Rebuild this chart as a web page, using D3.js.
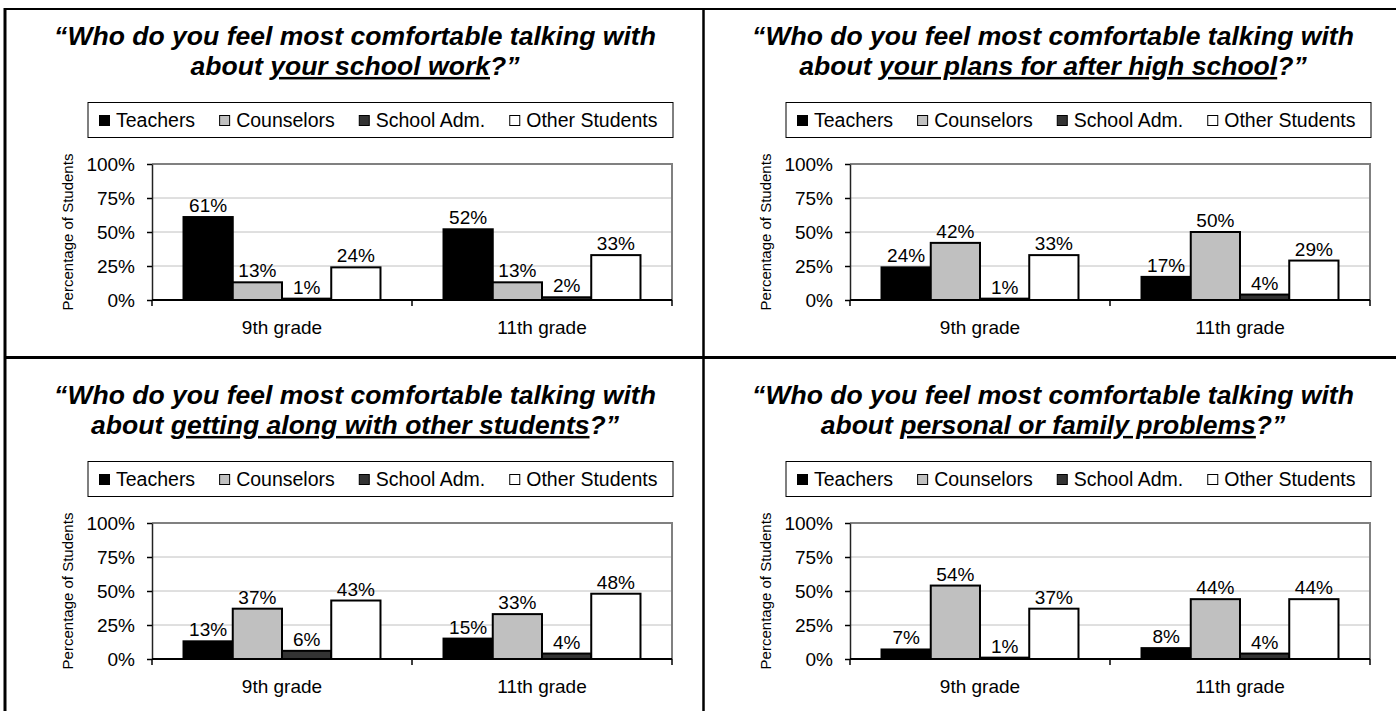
<!DOCTYPE html>
<html>
<head>
<meta charset="utf-8">
<script src="https://cdn.jsdelivr.net/npm/d3@7"></script>
<style>
  html, body { margin: 0; padding: 0; background: #fff; }
  svg { display: block; }
  text { font-family: "Liberation Sans", Arial, sans-serif; fill: #000; }
  .title { font-family: "Liberation Sans Narrow", "Arial Narrow", "Liberation Sans", Arial, sans-serif; font-weight: bold; font-style: italic; font-size: 25px; }
</style>
</head>
<body>
<svg id="chart" width="1396" height="711"></svg>
<script>
// Survey answers: share of students (%) naming each group, per grade
const categories = ["9th grade", "11th grade"];
const seriesNames = ["Teachers", "Counselors", "School Adm.", "Other Students"];
const seriesColors = ["#000000", "#c0c0c0", "#333333", "#ffffff"];
const yTicks = [0, 25, 50, 75, 100];

const questionStart = "Who do you feel most comfortable talking with";
const topics = [
  "your school work",
  "your plans for after high school",
  "getting along with other students",
  "personal or family problems"
];

// rows: grade; columns: Teachers, Counselors, School Adm., Other Students
const schoolWork      = [[61, 13, 1, 24], [52, 13, 2, 33]];
const afterHighSchool = [[24, 42, 1, 33], [17, 50, 4, 29]];
const otherStudents   = [[13, 37, 6, 43], [15, 33, 4, 48]];
const personalFamily  = [[7, 54, 1, 37], [8, 44, 4, 44]];

const panelData = [schoolWork, afterHighSchool, otherStudents, personalFamily];

const svg = d3.select("#chart");

// frame lines of the 2x2 grid
const frame = svg.append("g").attr("stroke", "#000").attr("fill", "none");
frame.append("line").attr("x1", 4).attr("x2", 1396).attr("y1", 9).attr("y2", 9).attr("stroke-width", 2);
frame.append("line").attr("x1", 5).attr("x2", 5).attr("y1", 8).attr("y2", 711).attr("stroke-width", 3);
frame.append("line").attr("x1", 703.5).attr("x2", 703.5).attr("y1", 8).attr("y2", 711).attr("stroke-width", 2.5);
frame.append("line").attr("x1", 4).attr("x2", 1396).attr("y1", 357.5).attr("y2", 357.5).attr("stroke-width", 3);

const plot = { left: 152, right: 672, top: 164, bottom: 300 };

function drawPanel(idx) {
  const ox = (idx % 2) * 698;
  const oy = Math.floor(idx / 2) * 359;
  const values = panelData[idx];
  const g = svg.append("g").attr("transform", `translate(${ox},${oy})`);

  // title
  const tg = g.append("g");
  const t1 = tg.append("text").attr("class", "title").attr("text-anchor", "middle")
    .attr("x", 0).attr("y", 45).text("\u201C" + questionStart);
  const t2 = tg.append("text").attr("class", "title").attr("text-anchor", "middle")
    .attr("x", 0).attr("y", 75);
  t2.append("tspan").text("about ");
  t2.append("tspan").style("text-decoration", "underline").text(topics[idx]);
  t2.append("tspan").text("?\u201D");
  const k = 602 / t1.node().getComputedTextLength();
  tg.attr("transform", `translate(355,0) scale(${k},1)`);

  // legend
  const lg = g.append("g");
  lg.append("rect").attr("x", 88).attr("y", 102.5).attr("width", 585).attr("height", 35)
    .attr("fill", "#fff").attr("stroke", "#000").attr("stroke-width", 1);
  let lx = 99;
  seriesNames.forEach((name, i) => {
    lg.append("rect").attr("x", lx + 0.5).attr("y", 115.5).attr("width", 10).attr("height", 10)
      .attr("fill", seriesColors[i]).attr("stroke", "#000").attr("stroke-width", 1);
    const txt = lg.append("text").attr("x", lx + 17).attr("y", 127)
      .style("font-size", "19.5px").text(name);
    lx = lx + 17 + txt.node().getComputedTextLength() + 24;
  });

  // scales
  const x = d3.scaleBand().domain(categories).range([plot.left, plot.right]).padding(0);
  const xs = d3.scaleBand().domain(seriesNames).range([0, x.bandwidth()])
    .paddingInner(0).paddingOuter(0.64);
  const y = d3.scaleLinear().domain([0, 100]).range([plot.bottom, plot.top]);

  // gridlines
  g.append("g").selectAll("line").data(yTicks.filter(d => d > 0 && d < 100)).join("line")
    .attr("x1", plot.left).attr("x2", plot.right)
    .attr("y1", d => y(d)).attr("y2", d => y(d))
    .attr("stroke", "#c0c0c0").attr("stroke-width", 1);

  // plot-area border (top and right)
  g.append("path")
    .attr("d", `M${plot.left},${y(100)}H${plot.right}V${plot.bottom}`)
    .attr("fill", "none").attr("stroke", "#808080").attr("stroke-width", 2);

  // bars
  categories.forEach((cat, ci) => {
    const bg = g.append("g");
    bg.selectAll("rect").data(values[ci]).join("rect")
      .attr("x", (d, i) => x(cat) + xs(seriesNames[i]))
      .attr("width", xs.bandwidth())
      .attr("y", d => y(d))
      .attr("height", d => y(0) - y(d))
      .attr("fill", (d, i) => seriesColors[i])
      .attr("stroke", "#000").attr("stroke-width", 2);
    bg.selectAll("text").data(values[ci]).join("text")
      .attr("x", (d, i) => x(cat) + xs(seriesNames[i]) + xs.bandwidth() / 2)
      .attr("y", d => y(d) - 5)
      .attr("text-anchor", "middle").style("font-size", "19px")
      .text(d => d + "%");
  });

  // y axis
  const ya = g.append("g").attr("transform", `translate(${plot.left},0)`)
    .call(d3.axisLeft(y).tickValues(yTicks).tickFormat(d => d + "%").tickSize(5).tickSizeOuter(0).tickPadding(12));
  ya.selectAll("text").style("font-size", "19px").style("font-family", "'Liberation Sans', Arial, sans-serif").attr("fill", "#000");
  ya.selectAll("line").attr("stroke", "#000").attr("stroke-width", 1.5);
  ya.select(".domain").attr("stroke", "#222").attr("stroke-width", 1.5);

  // x axis
  const xa = g.append("g").attr("transform", `translate(0,${plot.bottom})`)
    .call(d3.axisBottom(x).tickSize(0).tickPadding(21));
  xa.select(".domain").remove();
  xa.selectAll("text").style("font-size", "19px").style("font-family", "'Liberation Sans', Arial, sans-serif").attr("fill", "#000");
  g.append("line").attr("x1", plot.left).attr("x2", plot.right)
    .attr("y1", plot.bottom).attr("y2", plot.bottom)
    .attr("stroke", "#000").attr("stroke-width", 2);
  const bounds = categories.map(c => x(c)).concat([x(categories[categories.length - 1]) + x.bandwidth()]);
  g.append("g").selectAll("line").data(bounds).join("line")
    .attr("x1", d => d).attr("x2", d => d)
    .attr("y1", plot.bottom).attr("y2", plot.bottom + 6)
    .attr("stroke", "#000").attr("stroke-width", 1.5);

  // y axis title
  g.append("text")
    .attr("transform", `translate(73,${(plot.top + plot.bottom) / 2}) rotate(-90)`)
    .attr("text-anchor", "middle").style("font-size", "15px").attr("fill", "#222")
    .text("Percentage of Students");
}

panelData.forEach((d, i) => drawPanel(i));
</script>
</body>
</html>
